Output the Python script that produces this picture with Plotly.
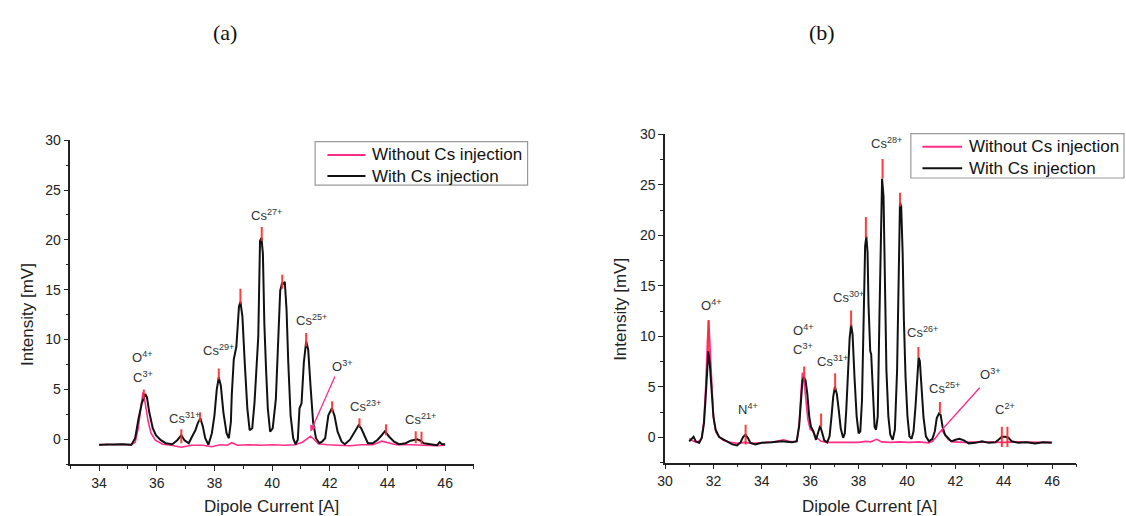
import plotly.graph_objects as go

# ---------------- Panel (a) data ----------------
a_with_x = [34.0, 34.4, 34.83, 35.12, 35.25, 35.37, 35.48, 35.6, 35.66, 35.74, 35.86, 35.97, 36.14, 36.31, 36.54,
            36.71, 36.85, 36.96, 37.11, 37.22, 37.34, 37.42, 37.51, 37.6, 37.68, 37.79, 37.91, 38.0, 38.08, 38.15,
            38.22, 38.31, 38.42, 38.5, 38.57, 38.6, 38.67, 38.76, 38.85, 38.9, 38.97, 39.05, 39.14, 39.22, 39.31,
            39.39, 39.47, 39.52, 39.58, 39.63, 39.68, 39.73, 39.79, 39.85, 39.93, 40.02, 40.13, 40.21, 40.28, 40.34,
            40.39, 40.44, 40.5, 40.56, 40.64, 40.73, 40.81, 40.89, 40.95, 41.02, 41.1, 41.18, 41.25, 41.33, 41.42,
            41.52, 41.64, 41.73, 41.84, 41.95, 42.07, 42.16, 42.27, 42.41, 42.52, 42.7, 42.87, 43.0, 43.09, 43.21,
            43.32, 43.49, 43.66, 43.8, 43.91, 44.06, 44.23, 44.4, 44.63, 44.8, 44.94, 45.03, 45.15, 45.26, 45.49,
            45.72, 45.81, 45.89, 46.0]
a_with_y = [-0.56, -0.5, -0.5, -0.55, 0.1, 2.1, 3.6, 4.55, 4.2, 2.7, 1.1, 0.4, -0.1, -0.4, -0.5,
            -0.1, 0.4, -0.1, -0.4, 0.25, 0.9, 1.6, 2.1, 1.25, 0.1, -0.55, 0.6, 2.4, 5.0, 6.2,
            5.4, 2.7, 0.6, 0.1, 1.75, 4.4, 8.0, 9.3, 13.3, 13.8, 12.3, 7.7, 3.1, 0.9, 1.1,
            3.7, 7.35, 10.3, 19.9, 20.2, 18.6, 11.6, 7.0, 3.1, 0.75, 1.1, 4.05, 10.3, 14.9, 15.6,
            15.6, 15.8, 13.0, 7.7, 2.4, 0.1, -0.5, -0.05, 3.1, 3.6, 7.7, 9.8, 9.0, 5.4, 1.75,
            0.1, -0.4, -0.25, 0.1, 2.4, 3.1, 2.4, 0.75, -0.25, -0.5, -0.05, 0.75, 1.4, 1.1, 0.25,
            -0.4, -0.4, -0.05, 0.4, 0.8, 0.25, -0.25, -0.5, -0.4, -0.15, -0.05, 0.0, -0.15, -0.4, -0.5,
            -0.6, -0.3, -0.5, -0.5]

a_without_x = [34.0, 34.25, 34.5, 34.8, 35.1, 35.25, 35.35, 35.45, 35.52, 35.6, 35.7, 35.8, 35.95, 36.2, 36.5,
               36.85, 37.2, 37.6, 37.9, 38.2, 38.45, 38.6, 38.8, 39.2, 39.6, 40.0, 40.4, 40.8, 41.05, 41.2,
               41.33, 41.45, 41.6, 41.9, 42.3, 42.7, 43.1, 43.5, 43.8, 44.0, 44.3, 44.8, 45.3, 45.7, 46.0]
a_without_y = [-0.6, -0.5, -0.55, -0.5, -0.6, -0.3, 1.0, 3.5, 4.7, 3.6, 1.8, 0.6, -0.1, -0.5, -0.6,
               -0.8, -0.6, -0.6, -0.75, -0.55, -0.6, -0.35, -0.6, -0.55, -0.6, -0.55, -0.6, -0.55, -0.3, 0.0,
               0.3, 0.0, -0.45, -0.55, -0.6, -0.65, -0.55, -0.55, -0.2, -0.35, -0.55, -0.55, -0.6, -0.65, -0.6]

a_peak_x = [35.55, 36.85, 37.5, 38.15, 38.9, 39.64, 40.35, 41.18, 42.08, 43.03, 43.95, 44.98, 45.18]
a_peak_lo = [4.0, -0.4, 1.75, 6.0, 13.6, 19.9, 15.1, 9.3, 2.7, 1.25, 0.4, -0.4, -0.5]
a_peak_hi = [5.0, 1.0, 2.7, 7.1, 15.1, 21.3, 16.5, 10.65, 3.8, 2.1, 1.5, 0.8, 0.75]

a_labels = ["O<sup>4+</sup>", "C<sup>3+</sup>", "Cs<sup>31+</sup>", "Cs<sup>29+</sup>", "Cs<sup>27+</sup>",
            "Cs<sup>25+</sup>", "O<sup>3+</sup>", "Cs<sup>23+</sup>", "Cs<sup>21+</sup>"]
a_label_x = [35.52, 35.52, 36.96, 38.14, 39.79, 41.35, 42.43, 43.25, 45.16]
a_label_y = [8.2, 6.2, 2.1, 9.0, 22.5, 12.0, 7.35, 3.3, 2.0]

# ---------------- Panel (b) data ----------------
b_with_x = [31.0, 31.11, 31.18, 31.27, 31.41, 31.52, 31.61, 31.68, 31.75, 31.79, 31.85, 31.91, 32.0, 32.09, 32.23,
            32.37, 32.57, 32.78, 32.98, 33.12, 33.23, 33.32, 33.42, 33.53, 33.73, 34.0, 34.42, 34.83, 35.24, 35.44,
            35.54, 35.62, 35.68, 35.74, 35.81, 35.88, 35.96, 36.03, 36.13, 36.24, 36.33, 36.41, 36.5, 36.58, 36.7,
            36.8, 36.88, 36.95, 37.02, 37.1, 37.18, 37.26, 37.36, 37.43, 37.49, 37.56, 37.63, 37.69, 37.75, 37.83,
            37.92, 38.0, 38.07, 38.14, 38.21, 38.27, 38.32, 38.37, 38.41, 38.48, 38.52, 38.59, 38.66, 38.72, 38.79,
            38.86, 38.92, 38.97, 39.03, 39.08, 39.15, 39.23, 39.31, 39.41, 39.5, 39.59, 39.65, 39.71, 39.76, 39.82,
            39.87, 39.94, 40.02, 40.1, 40.19, 40.27, 40.35, 40.42, 40.48, 40.53, 40.6, 40.68, 40.78, 40.91, 41.05,
            41.15, 41.23, 41.32, 41.39, 41.47, 41.57, 41.69, 41.83, 42.01, 42.17, 42.35, 42.55, 42.83, 43.1, 43.37,
            43.65, 43.78, 43.92, 44.06, 44.2, 44.33, 44.6, 44.95, 45.29, 45.63, 45.98]
b_with_y = [-0.4, -0.15, 0.05, -0.4, -0.55, -0.05, 1.4, 4.0, 7.9, 8.55, 7.25, 4.65, 2.05, 0.75, 0.05,
            -0.15, -0.4, -0.7, -0.8, -0.5, 0.05, 0.25, -0.05, -0.55, -0.7, -0.55, -0.5, -0.4, -0.5, -0.4,
            1.05, 4.3, 5.6, 5.95, 5.6, 4.3, 2.05, 1.05, 0.6, -0.25, 0.6, 1.15, 0.4, -0.3, -0.5,
            0.1, 2.05, 4.0, 5.0, 4.3, 2.7, 0.9, -0.05, 0.4, 2.7, 6.6, 9.85, 11.15, 10.2, 5.95,
            2.05, 0.4, 0.6, 3.7, 11.8, 18.95, 19.9, 18.3, 13.1, 8.55, 8.2, 4.65, 1.05, 0.75, 2.05,
            11.8, 22.2, 25.6, 23.8, 15.05, 6.6, 2.05, 0.25, -0.25, 0.75, 6.6, 16.7, 23.2, 22.85, 18.3,
            11.8, 5.95, 2.05, 0.1, -0.15, 0.6, 3.0, 6.3, 7.9, 7.55, 5.3, 2.05, 0.1, -0.4, -0.15,
            0.6, 1.9, 2.35, 2.2, 1.05, 0.25, -0.05, -0.4, -0.25, -0.15, -0.3, -0.6, -0.55, -0.4, -0.55,
            -0.5, -0.25, 0.05, 0.05, -0.05, -0.4, -0.55, -0.5, -0.6, -0.5, -0.55]

b_without_x = [31.0, 31.1, 31.3, 31.5, 31.6, 31.68, 31.75, 31.8, 31.85, 31.92, 32.0, 32.1, 32.25, 32.4, 32.7,
               33.0, 33.3, 33.6, 34.0, 34.5, 34.9, 35.2, 35.45, 35.55, 35.62, 35.68, 35.75, 35.82, 35.9, 36.0,
               36.1, 36.25, 36.45, 36.7, 37.0, 37.5, 38.0, 38.3, 38.5, 38.75, 38.95, 39.3, 39.7, 40.1, 40.5,
               40.9, 41.05, 41.2, 41.35, 41.45, 41.55, 41.7, 41.9, 42.4, 43.0, 43.5, 44.0, 44.5, 45.0, 45.5, 46.0]
b_without_y = [-0.1, -0.3, -0.5, -0.2, 1.5, 5.0, 9.5, 11.6, 9.5, 5.5, 2.0, 0.5, 0.0, -0.3, -0.5,
               -0.6, -0.5, -0.6, -0.5, -0.45, -0.25, -0.45, -0.4, 1.5, 4.5, 6.4, 5.5, 3.5, 1.8, 0.8,
               0.6, 0.0, -0.4, -0.5, -0.5, -0.45, -0.5, -0.4, -0.45, -0.2, -0.45, -0.5, -0.45, -0.5, -0.45,
               -0.55, -0.4, 0.0, 0.5, 0.7, 0.3, -0.2, -0.45, -0.5, -0.45, -0.5, -0.5, -0.45, -0.5, -0.5, -0.5]

b_peak_x = [31.8, 33.33, 35.75, 36.45, 37.03, 37.69, 38.3, 38.99, 39.71, 40.47, 41.36, 43.92, 44.15]
b_peak_lo = [8.5, -0.7, 5.6, 1.05, 4.65, 11.0, 19.75, 25.6, 22.85, 7.9, 2.35, -0.95, -0.95]
b_peak_hi = [11.6, 1.25, 7.0, 2.35, 6.35, 12.55, 21.8, 27.55, 24.2, 8.95, 3.5, 1.05, 1.05]

b_labels = ["O<sup>4+</sup>", "N<sup>4+</sup>", "O<sup>4+</sup>", "C<sup>3+</sup>", "Cs<sup>31+</sup>",
            "Cs<sup>30+</sup>", "Cs<sup>28+</sup>", "Cs<sup>26+</sup>", "Cs<sup>25+</sup>", "O<sup>3+</sup>",
            "C<sup>2+</sup>"]
b_label_x = [31.91, 33.43, 35.72, 35.72, 36.93, 37.58, 39.16, 40.65, 41.57, 43.47, 44.06]
b_label_y = [13.1, 2.85, 10.65, 8.7, 7.55, 13.85, 29.1, 10.4, 4.9, 6.3, 2.8]

series_names = ["Without Cs injection", "With Cs injection"]

PINK = "#ff2d8a"
BLACK = "#111111"
RED = "rgba(255,40,40,0.9)"
FONT = "Arial, Liberation Sans, sans-serif"
W, H = 1126, 516


def segs(xs, lo, hi):
    px, py = [], []
    for x, l, h in zip(xs, lo, hi):
        px += [x, x, None]
        py += [l, h, None]
    return px, py


fig = go.Figure()

# panel (a)
fig.add_trace(go.Scatter(x=a_without_x, y=a_without_y, mode="lines", name=series_names[0],
                         line=dict(color=PINK, width=1.6), xaxis="x", yaxis="y", showlegend=False))
fig.add_trace(go.Scatter(x=a_with_x, y=a_with_y, mode="lines", name=series_names[1],
                         line=dict(color=BLACK, width=2), xaxis="x", yaxis="y", showlegend=False))
sx, sy = segs(a_peak_x, a_peak_lo, a_peak_hi)
fig.add_trace(go.Scatter(x=sx, y=sy, mode="lines", line=dict(color=RED, width=2),
                         showlegend=False, xaxis="x", yaxis="y", hoverinfo="skip"))

# panel (b)
fig.add_trace(go.Scatter(x=b_without_x, y=b_without_y, mode="lines", name=series_names[0],
                         line=dict(color=PINK, width=1.6), xaxis="x2", yaxis="y2", showlegend=False))
fig.add_trace(go.Scatter(x=b_with_x, y=b_with_y, mode="lines", name=series_names[1],
                         line=dict(color=BLACK, width=2), xaxis="x2", yaxis="y2", showlegend=False))
sx, sy = segs(b_peak_x, b_peak_lo, b_peak_hi)
fig.add_trace(go.Scatter(x=sx, y=sy, mode="lines", line=dict(color=RED, width=2),
                         showlegend=False, xaxis="x2", yaxis="y2", hoverinfo="skip"))

axis_common = dict(showline=True, linecolor="#222", linewidth=1.5, ticks="outside", ticklen=5,
                   tickwidth=1.3, tickcolor="#222", showgrid=False, zeroline=False,
                   tickfont=dict(family=FONT, size=14, color="#222"))

fig.update_layout(
    width=W, height=H,
    margin=dict(l=0, r=0, t=0, b=0),
    plot_bgcolor="white", paper_bgcolor="white",
    showlegend=False,
    xaxis=dict(domain=[0.0557, 0.4168], range=[33, 47], dtick=2, tick0=34, anchor="y",
               minor=dict(dtick=1, ticklen=3, tickcolor="#222", ticks="outside"), **axis_common),
    yaxis=dict(domain=[0.1021, 0.7397], range=[-2.5, 30], dtick=5, tick0=0, anchor="x",
               minor=dict(dtick=2.5, ticklen=3, tickcolor="#222", ticks="outside"), **axis_common),
    xaxis2=dict(domain=[0.5877, 0.9556], range=[30, 47], dtick=2, tick0=30, anchor="y2",
                minor=dict(dtick=1, ticklen=3, tickcolor="#222", ticks="outside"), **axis_common),
    yaxis2=dict(domain=[0.1052, 0.7514], range=[-2.5, 30], dtick=5, tick0=0, anchor="x2",
                minor=dict(dtick=2.5, ticklen=3, tickcolor="#222", ticks="outside"), **axis_common),
)

ann = []
shapes = []
for t, x, y in zip(a_labels, a_label_x, a_label_y):
    ann.append(dict(text=t, x=x, y=y, xref="x", yref="y", showarrow=False,
                    font=dict(family=FONT, size=13, color="#333")))
for t, x, y in zip(b_labels, b_label_x, b_label_y):
    ann.append(dict(text=t, x=x, y=y, xref="x2", yref="y2", showarrow=False,
                    font=dict(family=FONT, size=13, color="#333")))

# O3+ pointer lines
ann.append(dict(x=41.33, y=0.75, ax=42.2, ay=6.45, xref="x", yref="y", axref="x", ayref="y",
                showarrow=True, arrowhead=2, arrowsize=1, arrowwidth=1.3, arrowcolor=PINK, text=""))
ann.append(dict(x=41.39, y=0.6, ax=43.06, ay=5.05, xref="x2", yref="y2", axref="x2", ayref="y2",
                showarrow=True, arrowhead=0, arrowwidth=1.3, arrowcolor=PINK, text=""))

# axis titles
for x, y in [(265 / W, 1 - 506.7 / H), (868 / W, 1 - 506.7 / H)]:
    ann.append(dict(text="Dipole Current [A]", x=x, y=y, xref="paper", yref="paper", showarrow=False,
                    xanchor="center", yanchor="middle", font=dict(family=FONT, size=17, color="#222")))
for x, y in [(19 / W, 1 - 311 / H), (617 / W, 1 - 306 / H)]:
    ann.append(dict(text="Intensity [mV]", x=x, y=y, xref="paper", yref="paper", showarrow=False,
                    textangle=-90, xanchor="center", yanchor="middle",
                    font=dict(family=FONT, size=17, color="#222")))

# legends (box, line samples, texts) in pixel positions
legend_boxes = [(309.3, 523.3, 135.7, 180.0, 321.7, 360.0, 365.0, [149.3, 170.7]),
                (909.3, 1124.0, 127.7, 172.7, 921.0, 961.0, 966.0, [141.0, 162.7])]
for (x0, x1, y0, y1, lx0, lx1, tx, rows) in legend_boxes:
    shapes.append(dict(type="rect", xref="paper", yref="paper", x0=x0 / W, x1=x1 / W,
                       y0=1 - y1 / H, y1=1 - y0 / H, line=dict(color="#999", width=1.2),
                       fillcolor="white", layer="above"))
    for name, col, ry in zip(series_names, [PINK, BLACK], rows):
        shapes.append(dict(type="line", xref="paper", yref="paper", x0=lx0 / W, x1=lx1 / W,
                           y0=1 - ry / H, y1=1 - ry / H, line=dict(color=col, width=2), layer="above"))
        ann.append(dict(text=name, x=tx / W, y=1 - ry / H, xref="paper", yref="paper", showarrow=False,
                        xanchor="left", yanchor="middle", font=dict(family=FONT, size=17, color="#111")))

# panel captions
ann.append(dict(text="(a)", x=219 / W, y=1 - 25 / H, xref="paper", yref="paper", showarrow=False,
                xanchor="center", yanchor="middle",
                font=dict(family="Liberation Serif, Times New Roman, serif", size=22, color="#111")))
ann.append(dict(text="(b)", x=820 / W, y=1 - 25 / H, xref="paper", yref="paper", showarrow=False,
                xanchor="center", yanchor="middle",
                font=dict(family="Liberation Serif, Times New Roman, serif", size=22, color="#111")))

fig.update_layout(annotations=ann, shapes=shapes)
fig.write_html("out.html")
